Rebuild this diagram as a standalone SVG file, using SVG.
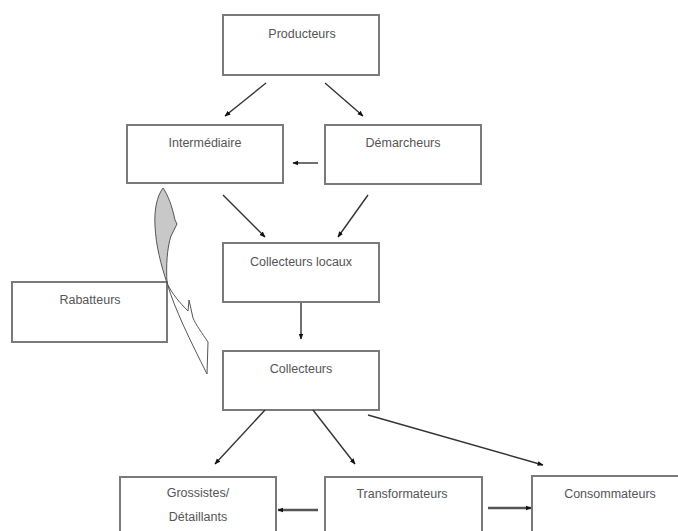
<svg xmlns="http://www.w3.org/2000/svg" width="678" height="531" viewBox="0 0 678 531">
<defs>
<marker id="ah" viewBox="0 0 10 10" refX="9" refY="5" markerWidth="6" markerHeight="6" orient="auto" markerUnits="userSpaceOnUse">
<path d="M0,1 L10,5 L0,9 Z" fill="#111"/>
</marker>
<style>
.box{fill:#fff;stroke:#7a7a7a;stroke-width:2}
.lbl{font-family:"Liberation Sans",Arial,sans-serif;font-size:12.5px;fill:#555;text-anchor:middle}
.con{stroke:#333;stroke-width:1.4;fill:none;marker-end:url(#ah)}
.thick{stroke:#555;stroke-width:2.5}
</style>
</defs>
<rect width="678" height="531" fill="#fff"/>
<g id="producteurs"><rect class="box" x="223" y="15" width="156" height="60"/><text class="lbl" x="302" y="38">Producteurs</text></g>
<g id="intermediaire"><rect class="box" x="127" y="125" width="156" height="58"/><text class="lbl" x="205" y="147">Intermédiaire</text></g>
<g id="demarcheurs"><rect class="box" x="325" y="125" width="156" height="59"/><text class="lbl" x="403" y="147">Démarcheurs</text></g>
<g id="collecteurs-locaux"><rect class="box" x="223" y="243" width="156" height="59"/><text class="lbl" x="301" y="266">Collecteurs locaux</text></g>
<g id="rabatteurs"><rect class="box" x="12" y="282" width="155" height="60"/><text class="lbl" x="90" y="304">Rabatteurs</text></g>
<g id="collecteurs"><rect class="box" x="223" y="351" width="156" height="59"/><text class="lbl" x="301" y="373">Collecteurs</text></g>
<g id="grossistes"><rect class="box" x="120" y="477" width="156" height="64"/><text class="lbl" x="198" y="497">Grossistes/</text><text class="lbl" x="198" y="521">Détaillants</text></g>
<g id="transformateurs"><rect class="box" x="325" y="477" width="157" height="64"/><text class="lbl" x="402" y="498">Transformateurs</text></g>
<g id="consommateurs"><rect class="box" x="532" y="476" width="160" height="65"/><text class="lbl" x="610" y="498">Consommateurs</text></g>
<g id="rabatteurs-arrow">
<path d="M163,188 C157,196 154,210 155,226 C156,246 161,265 167,283 C166,266 167,248 171,236 L177,224 L175,220 C172,206 168,195 163,188 Z" fill="#c8c8c8" stroke="#555" stroke-width="1"/>
<path d="M167,283 C175,310 190,340 207,374 L208,342 C202,333 196,325 193,318 L189,300 L188,311 C180,303 172,294 167,283 Z" fill="#fff" stroke="#555" stroke-width="1"/>
</g>
<g id="connectors">
<line class="con" x1="266" y1="83" x2="225" y2="116"/>
<line class="con" x1="325" y1="83" x2="363" y2="116"/>
<line class="con" x1="318" y1="163" x2="293" y2="163"/>
<line class="con" x1="223" y1="195" x2="265" y2="237"/>
<line class="con" x1="368" y1="195" x2="338" y2="237"/>
<line class="con" x1="301" y1="303" x2="301" y2="339"/>
<line class="con" x1="265" y1="410" x2="215" y2="464"/>
<line class="con" x1="313" y1="410" x2="355" y2="464"/>
<line class="con" x1="368" y1="415" x2="543" y2="465"/>
<line class="con thick" x1="318" y1="510" x2="278" y2="510"/>
<line class="con thick" x1="488" y1="508" x2="531" y2="508"/>
</g>
</svg>
